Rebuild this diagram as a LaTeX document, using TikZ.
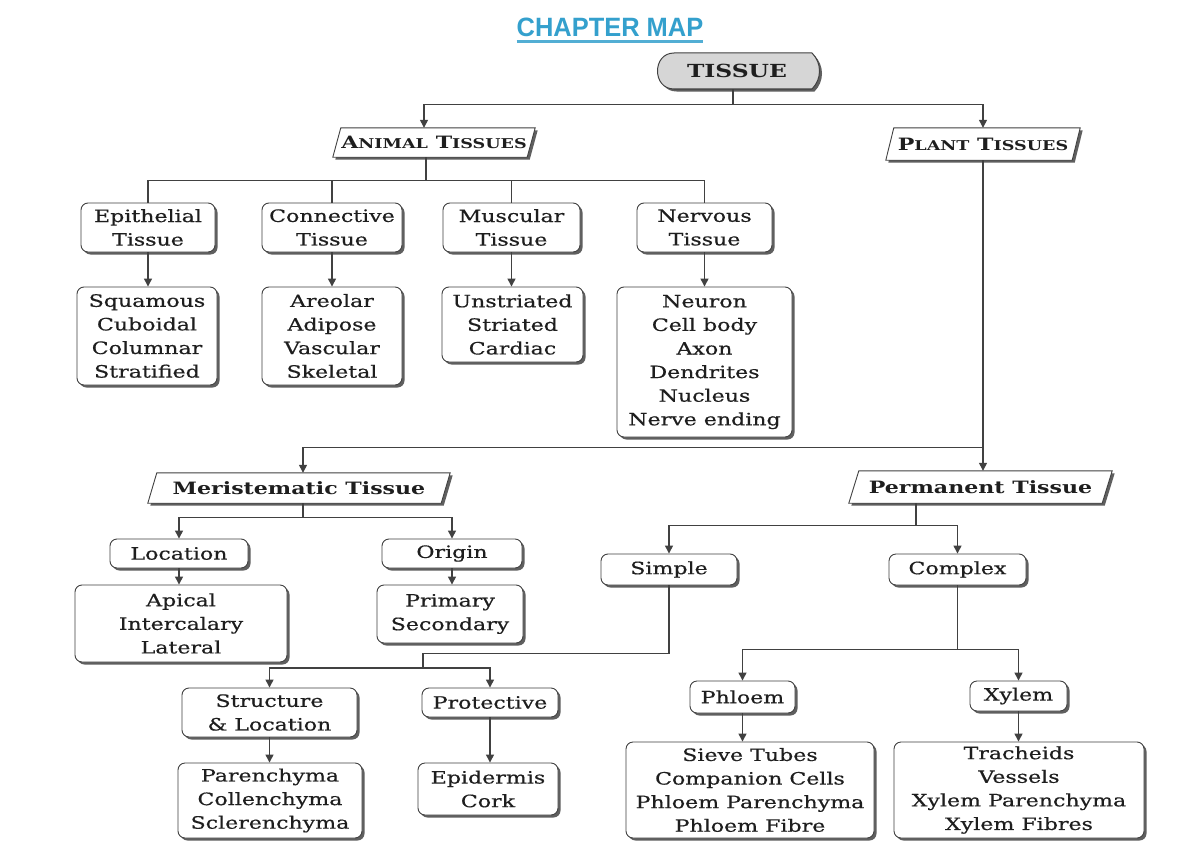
\documentclass[tikz,border=0pt]{standalone}
\usepackage{fontspec}
\setmainfont{DejaVu Serif}[FakeStretch=1.3, UprightFeatures={FakeBold=0.5}]
\newfontfamily\titlefont{Liberation Sans}[FakeStretch=0.96]
\usetikzlibrary{arrows.meta,shadows,backgrounds,calc}
\definecolor{linec}{RGB}{65,65,65}
\definecolor{shadowc}{RGB}{95,95,95}
\definecolor{textc}{RGB}{30,30,30}
\definecolor{titlec}{RGB}{52,160,205}
\definecolor{tisc}{RGB}{214,214,214}
\newcommand{\fsc}[1]{{\fontsize{13.5}{13.5}\selectfont #1}}
\newcommand{\paral}[2]{%
 \fill[shadowc] ([xshift=-#2+2.5pt,yshift=-2.5pt]#1.south west) -- ([xshift=-#2+2.5pt,yshift=-2.5pt]#1.south east) -- ([xshift=#2+2.5pt,yshift=-2.5pt]#1.north east) -- ([xshift=#2+2.5pt,yshift=-2.5pt]#1.north west) -- cycle;
 \filldraw[fill=white,draw=linec,line width=0.9pt] ([xshift=-#2]#1.south west) -- ([xshift=-#2]#1.south east) -- ([xshift=#2]#1.north east) -- ([xshift=#2]#1.north west) -- cycle;}
\tikzset{
 box/.style={draw=linec, line width=0.9pt, fill=white, rounded corners=7pt, align=center, inner sep=0pt,
   drop shadow={shadow xshift=2.5pt, shadow yshift=-2.5pt, fill=shadowc, opacity=1},
   font=\fontsize{17}{23.6}\selectfont, text=textc},
 ptext/.style={inner sep=0pt, align=center, font=\bfseries\fontsize{17}{20}\selectfont, text=textc},
 conn/.style={draw=linec, line width=1.3pt},
 arr/.style={conn, -{Triangle[width=8pt,length=8pt]}},
}
\begin{document}
\begin{tikzpicture}[x=1pt,y=-1pt]
\useasboundingbox (0,0) rectangle (1197,843);
% title
\node[font=\titlefont\bfseries\fontsize{26.5}{26.5}\selectfont, text=titlec, inner sep=0pt, anchor=base] (title) at (610,37) {CHAPTER MAP};
\draw[titlec!85, line width=3pt] ([yshift=-4pt]title.south west) -- ([yshift=-4pt]title.south east);
% root
\node[inner sep=0pt, minimum width=165pt, minimum height=36pt, font=\bfseries\fontsize{18}{18}\selectfont, text=textc] (tis) at (737,71) {TISSUE};
% level 1
\node[ptext, minimum width=194pt, minimum height=29pt] (ani) at (434,142.5) {A\fsc{NIMAL} T\fsc{ISSUES}};
\node[ptext, minimum width=186pt, minimum height=32pt] (pla) at (983,144) {P\fsc{LANT} T\fsc{ISSUES}};
% animal
\node[box, minimum width=134pt, minimum height=49pt] (epi) at (148,227.5) {Epithelial\\Tissue};
\node[box, minimum width=140pt, minimum height=49pt] (con) at (332,227.5) {Connective\\Tissue};
\node[box, minimum width=137pt, minimum height=49pt] (mus) at (511.5,227.5) {Muscular\\Tissue};
\node[box, minimum width=135pt, minimum height=49pt] (ner) at (704.5,227.5) {Nervous\\Tissue};
\node[box, minimum width=140pt, minimum height=98pt] (epiL) at (147,336) {Squamous\\Cuboidal\\Columnar\\Stratified};
\node[box, minimum width=140pt, minimum height=98pt] (conL) at (332,336) {Areolar\\Adipose\\Vascular\\Skeletal};
\node[box, minimum width=141pt, minimum height=75pt] (musL) at (512.5,324.5) {Unstriated\\Striated\\Cardiac};
\node[box, minimum width=175pt, minimum height=150pt] (nerL) at (704.5,362) {Neuron\\Cell body\\Axon\\Dendrites\\Nucleus\\Nerve ending};
% plant
\node[ptext, minimum width=293pt, minimum height=30pt] (mer) at (299,488) {Meristematic Tissue};
\node[ptext, minimum width=253pt, minimum height=32pt] (perm) at (980.5,487) {Permanent Tissue};
\node[box, minimum width=138pt, minimum height=29pt] (loc) at (179,553.5) {Location};
\node[box, minimum width=212pt, minimum height=77pt] (locL) at (181,623.5) {Apical\\Intercalary\\Lateral};
\node[box, minimum width=140pt, minimum height=29pt] (ori) at (452,553.5) {Origin};
\node[box, minimum width=146pt, minimum height=58pt] (oriL) at (450,614) {Primary\\Secondary};
\node[box, minimum width=136pt, minimum height=31pt] (sim) at (669,569.5) {Simple};
\node[box, minimum width=137pt, minimum height=31pt] (com) at (957.5,569.5) {Complex};
\node[box, minimum width=175pt, minimum height=49pt] (sl) at (269.5,712.5) {Structure\\\& Location};
\node[box, minimum width=184pt, minimum height=75pt] (slL) at (270,800.5) {Parenchyma\\Collenchyma\\Sclerenchyma};
\node[box, minimum width=136pt, minimum height=29pt] (pro) at (490,702.5) {Protective};
\node[box, minimum width=140pt, minimum height=52pt] (proL) at (488,789) {Epidermis\\Cork};
\node[box, minimum width=105pt, minimum height=32pt] (phl) at (742.5,697) {Phloem};
\node[box, minimum width=248pt, minimum height=96pt] (phlL) at (750,790) {Sieve Tubes\\Companion Cells\\Phloem Parenchyma\\Phloem Fibre};
\node[box, minimum width=97pt, minimum height=30pt] (xyl) at (1018.5,696) {Xylem};
\node[box, minimum width=250pt, minimum height=96pt] (xylL) at (1019,790) {Tracheids\\Vessels\\Xylem Parenchyma\\Xylem Fibres};
% shapes behind
\begin{pgfonlayer}{background}
 \fill[white] (0,0) rectangle (1197,843);
 \fill[shadowc, shift={(2.5,2.5)}] (674,53) -- (812,53) .. controls (822,63) and (822,79) .. (812,89) -- (674,89) .. controls (652,89) and (652,53) .. (674,53) -- cycle;
 \filldraw[fill=tisc, draw=linec, line width=1pt] (674,53) -- (812,53) .. controls (822,63) and (822,79) .. (812,89) -- (674,89) .. controls (652,89) and (652,53) .. (674,53) -- cycle;
 \paral{ani}{4pt}
 \paral{pla}{4pt}
 \paral{mer}{4.5pt}
 \paral{perm}{5pt}
\end{pgfonlayer}
% connectors
\draw[arr] ([xshift=-4pt]tis.south) -- ++(0,15) -| ([xshift=-10pt]ani.north);
\draw[arr] ([xshift=-4pt]tis.south) -- ++(0,15) -| (pla.north);
\draw[conn] ([xshift=-8pt]ani.south) -- ++(0,23) coordinate (ja);
\draw[conn] (epi.north) |- (ja) -| (ner.north);
\draw[conn] (con.north) -- (con.north |- ja);
\draw[conn] (mus.north) -- (mus.north |- ja);
\draw[arr] (epi.south) -- (epi.south |- epiL.north);
\draw[arr] (con.south) -- (con.south |- conL.north);
\draw[arr] (mus.south) -- (mus.south |- musL.north);
\draw[arr] (ner.south) -- (ner.south |- nerL.north);
% plant
\draw[arr] (pla.south) -- (pla.south |- perm.north);
\path (pla.south) ++(0,287) coordinate (jp);
\draw[arr] (jp) -| ([xshift=4pt]mer.north);
\draw[conn] ([xshift=4pt]mer.south) -- ++(0,14) coordinate (jm);
\draw[arr] (jm) -| (loc.north);
\draw[arr] (jm) -| (ori.north);
\draw[arr] (loc.south) -- (loc.south |- locL.north);
\draw[arr] (ori.south) -- (ori.south |- oriL.north);
\draw[conn] ([xshift=-64.5pt]perm.south) -- ++(0,22) coordinate (jq);
\draw[arr] (jq) -| (sim.north);
\draw[arr] (jq) -| (com.north);
\coordinate (js) at (423,668);
\draw[conn] (sim.south) -- ++(0,68) -| (js);
\draw[arr] (js) -| (sl.north);
\draw[arr] (js) -| (pro.north);
\draw[arr] (sl.south) -- (sl.south |- slL.north);
\draw[arr] (pro.south) -- (pro.south |- proL.north);
\draw[conn] (com.south) -- ++(0,64) coordinate (jc);
\draw[arr] (jc) -| (phl.north);
\draw[arr] (jc) -| (xyl.north);
\draw[arr] (phl.south) -- (phl.south |- phlL.north);
\draw[arr] (xyl.south) -- (xyl.south |- xylL.north);
\end{tikzpicture}
\end{document}
